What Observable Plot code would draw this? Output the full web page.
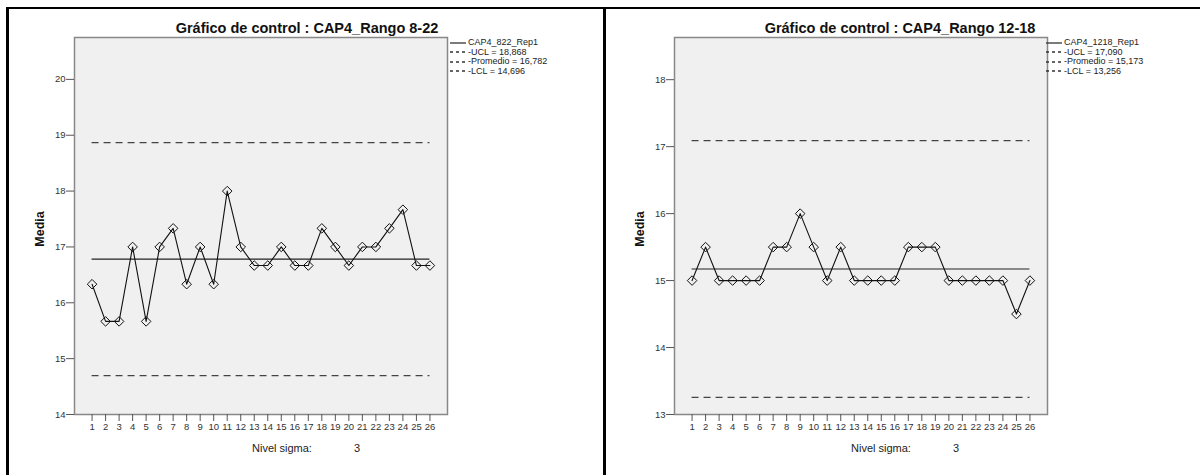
<!DOCTYPE html>
<html>
<head>
<meta charset="utf-8">
<script src="https://cdn.jsdelivr.net/npm/d3@7"></script>
<script src="https://cdn.jsdelivr.net/npm/@observablehq/plot@0.6"></script>
<style>
  html, body { margin: 0; padding: 0; background: #fff; }
  #page { position: relative; width: 1200px; height: 475px; overflow: hidden;
          font-family: "Liberation Sans", Arial, sans-serif; color: #222; }
  .rule-h { position: absolute; height: 2px; background: #000; }
  .rule-v { position: absolute; width: 3px; background: #000; }
  .panel { position: absolute; top: 0; width: 600px; height: 475px; }
  .panel svg.chart { position: absolute; left: 0; top: 0; }
  .title { position: absolute; font-weight: bold; font-size: 14.5px; white-space: nowrap;
           transform: translate(-50%, -50%); color: #111; }
  .ylab { position: absolute; font-weight: bold; font-size: 12.5px;
          transform: translate(-50%, -50%) rotate(-90deg); color: #111; }
  .sigma { position: absolute; font-size: 11px; white-space: nowrap; transform: translateY(-50%); color: #222; }
  .legend { position: absolute; font-size: 9px; line-height: 9.5px; color: #222; }
  .legend div { display: flex; align-items: center; white-space: nowrap; }
  .legend svg { margin-right: 1px; }
</style>
</head>
<body>
<div id="page">
  <div class="rule-h" style="left:6px; top:7px; width:1194px;"></div>
  <div class="rule-v" style="left:6px; top:7px; height:468px;"></div>
  <div class="rule-v" style="left:603px; top:8px; height:467px;"></div>
</div>
<script>
// Sample numbers (subgroups) on the x axis
const samples = d3.range(1, 27);

// Chart 1: CAP4_Rango 8-22, subgroup means
const rep822 = [16.333, 15.667, 15.667, 17.000, 15.667, 17.000, 17.333, 16.333, 17.000, 16.333,
                18.000, 17.000, 16.667, 16.667, 17.000, 16.667, 16.667, 17.333, 17.000, 16.667,
                17.000, 17.000, 17.333, 17.667, 16.667, 16.667];
const limits822 = {ucl: 18.868, mean: 16.782, lcl: 14.696};
const yTicks822 = [14, 15, 16, 17, 18, 19, 20];

// Chart 2: CAP4_Rango 12-18, subgroup means
const rep1218 = [15.0, 15.5, 15.0, 15.0, 15.0, 15.0, 15.5, 15.5, 16.0, 15.5,
                 15.0, 15.5, 15.0, 15.0, 15.0, 15.0, 15.5, 15.5, 15.5, 15.0,
                 15.0, 15.0, 15.0, 15.0, 14.5, 15.0];
const limits1218 = {ucl: 17.090, mean: 15.173, lcl: 13.256};
const yTicks1218 = [13, 14, 15, 16, 17, 18];

const titles = ["Gráfico de control : CAP4_Rango 8-22", "Gráfico de control : CAP4_Rango 12-18"];
const seriesNames = ["CAP4_822_Rep1", "CAP4_1218_Rep1"];
const sigmaLevel = 3;

const fmt = v => v.toFixed(3).replace(".", ",");

function controlChart({values, limits, yDomain, yTicks}) {
  const data = samples.map((s, i) => ({sample: s, value: values[i]}));
  const xr = [d3.min(samples), d3.max(samples)];
  return Plot.plot({
    width: 600,
    height: 440,
    marginLeft: 74,
    marginRight: 153,
    marginTop: 37,
    marginBottom: 26,
    style: {fontFamily: "Liberation Sans, Arial, sans-serif", fontSize: "9.5px", color: "#333", background: "transparent"},
    x: {domain: [-0.3, 27.3], label: null},
    y: {domain: yDomain, label: null},
    marks: [
      Plot.frame({fill: "#f0f0f0", stroke: "none"}),
      Plot.ruleY([limits.ucl, limits.lcl], {x1: xr[0], x2: xr[1], stroke: "#444", strokeWidth: 1.4, strokeDasharray: "7,5"}),
      Plot.ruleY([limits.mean], {x1: xr[0], x2: xr[1], stroke: "#222", strokeWidth: 1.1}),
      Plot.line(data, {x: "sample", y: "value", stroke: "#111", strokeWidth: 1.1}),
      Plot.dot(data, {x: "sample", y: "value", symbol: "diamond2", r: 4.3, stroke: "#111", strokeWidth: 1, fill: "none"}),
      Plot.frame({stroke: "#888", strokeWidth: 1.5}),
      Plot.axisY({ticks: yTicks, tickFormat: d => String(d), tickSize: 8, tickPadding: 1, stroke: "#555", fontSize: 9.5}),
      Plot.axisX({ticks: samples, tickFormat: d => String(d), tickSize: 7, tickPadding: 2, stroke: "#555", fontSize: 9.5})
    ]
  });
}

function legendSwatch(dash) {
  const svg = d3.create("svg").attr("width", 17).attr("height", 8);
  svg.append("line").attr("x1", 0).attr("x2", 16).attr("y1", 4).attr("y2", 4)
    .attr("stroke", "#333").attr("stroke-width", 1.3)
    .attr("stroke-dasharray", dash ? "3,3" : null);
  return svg.node();
}

const page = document.getElementById("page");
const configs = [
  {values: rep822, limits: limits822, yDomain: [14, 20.75], yTicks: yTicks822,
   left: 0, titleX: 307, legendX: 450, sigmaX: 252, threeX: 354},
  {values: rep1218, limits: limits1218, yDomain: [13, 18.63], yTicks: yTicks1218,
   left: 600, titleX: 300, legendX: 446, sigmaX: 251, threeX: 353}
];

configs.forEach((c, k) => {
  const panel = document.createElement("div");
  panel.className = "panel";
  panel.style.left = c.left + "px";
  page.appendChild(panel);

  const chart = controlChart(c);
  chart.classList.add("chart");
  panel.appendChild(chart);

  const title = document.createElement("div");
  title.className = "title";
  title.style.left = c.titleX + "px";
  title.style.top = "28px";
  title.textContent = titles[k];
  panel.appendChild(title);

  const ylab = document.createElement("div");
  ylab.className = "ylab";
  ylab.style.left = "40px";
  ylab.style.top = "229px";
  ylab.textContent = "Media";
  panel.appendChild(ylab);

  const sigma = document.createElement("div");
  sigma.className = "sigma";
  sigma.style.left = c.sigmaX + "px";
  sigma.style.top = "448px";
  sigma.innerHTML = "Nivel sigma:<span style=\"position:absolute;left:" + (c.threeX - c.sigmaX) + "px\">" + sigmaLevel + "</span>";
  panel.appendChild(sigma);

  const legend = document.createElement("div");
  legend.className = "legend";
  legend.style.left = c.legendX + "px";
  legend.style.top = "38px";
  const entries = [
    [seriesNames[k], false],
    ["-UCL = " + fmt(c.limits.ucl), true],
    ["-Promedio = " + fmt(c.limits.mean), true],
    ["-LCL = " + fmt(c.limits.lcl), true]
  ];
  entries.forEach(([label, dash]) => {
    const row = document.createElement("div");
    row.appendChild(legendSwatch(dash));
    row.appendChild(document.createTextNode(label));
    legend.appendChild(row);
  });
  panel.appendChild(legend);
});
</script>
</body>
</html>
